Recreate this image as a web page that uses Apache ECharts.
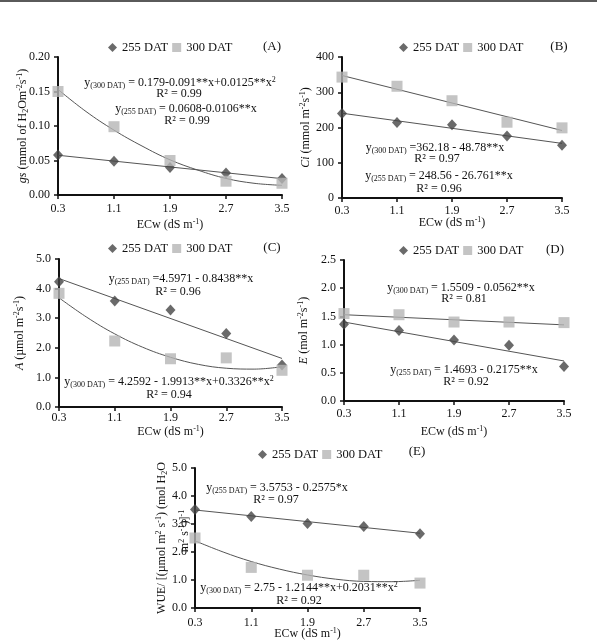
<!DOCTYPE html>
<html>
<head>
<meta charset="utf-8">
<script src="https://cdn.jsdelivr.net/npm/echarts@6/dist/echarts.min.js"></script>
<style>html,body{margin:0;padding:0;background:#fff}#c{width:597px;height:642px}</style>
</head>
<body>
<div id="c"></div>
<script>
// ---- data ----
const ecw = [0.3, 1.1, 1.9, 2.7, 3.5];
const xTicks = [0.3, 1.1, 1.9, 2.7, 3.5];
const seriesNames = ['255 DAT', '300 DAT'];

const gsA255 = [0.058, 0.049, 0.040, 0.032, 0.024];
const gsA300 = [0.150, 0.099, 0.050, 0.020, 0.017];
const ciB255 = [240, 214, 208, 176, 150];
const ciB300 = [343, 317, 276, 215, 199];
const aC255 = [4.23, 3.58, 3.28, 2.48, 1.42];
const aC300 = [3.84, 2.23, 1.63, 1.66, 1.24];
const eD255 = [1.36, 1.25, 1.08, 0.99, 0.61];
const eD300 = [1.55, 1.53, 1.40, 1.40, 1.39];
const wueE255 = [3.52, 3.27, 3.02, 2.91, 2.65];
const wueE300 = [2.50, 1.45, 1.17, 1.17, 0.89];

// trend lines
const lineX = [0.3, 3.5];
const curveX = [0.3, 0.7, 1.1, 1.5, 1.9, 2.3, 2.7, 3.1, 3.5];
const trendA255 = [0.0576, 0.0237];
const trendA300 = [0.153, 0.121, 0.094, 0.071, 0.051, 0.036, 0.024, 0.017, 0.014];
const trendB255 = [240.5, 154.9];
const trendB300 = [347.5, 191.5];
const trendC255 = [4.34, 1.64];
const trendC300 = [3.69, 3.03, 2.47, 2.02, 1.68, 1.44, 1.31, 1.28, 1.36];
const trendD255 = [1.40, 0.71];
const trendD300 = [1.53, 1.35];
const trendE255 = [3.50, 2.67];
const trendE300 = [2.40, 2.00, 1.66, 1.39, 1.18, 1.03, 0.95, 0.94, 0.99];

// ---- chart ----
const FONT = 'Liberation Serif';
const TXT = '#111';
function pts(xs, ys) { return xs.map((x, i) => [x, ys[i]]); }

const richBase = {
  n: {fontFamily: FONT, fontSize: 12, color: TXT, lineHeight: 14},
  i: {fontFamily: FONT, fontSize: 12, fontStyle: 'italic', color: TXT, lineHeight: 14},
  s: {fontFamily: FONT, fontSize: 8, color: TXT, lineHeight: 6, verticalAlign: 'bottom'},
  p: {fontFamily: FONT, fontSize: 8, color: TXT, lineHeight: 6, verticalAlign: 'top'}
};

const panels = [
  {grid: {left: 58, top: 57, width: 224, height: 138}, min: 0, max: 0.2, interval: 0.05, dec: 2,
   yName: '{i|gs}{n| (mmol of H}{s|2}{n|Om}{p|-2}{n|s}{p|-1}{n|)}', yGap: 28, xGap: 23, xMargin: 8,
   d255: gsA255, d300: gsA300, t255: [lineX, trendA255], t300: [curveX, trendA300]},
  {grid: {left: 342, top: 57, width: 220, height: 141}, min: 0, max: 400, interval: 100, dec: 0,
   yName: '{i|Ci}{n| (mmol m}{p|-2}{n|s}{p|-1}{n|)}', yGap: 29, xGap: 18, xMargin: 7,
   d255: ciB255, d300: ciB300, t255: [lineX, trendB255], t300: [lineX, trendB300]},
  {grid: {left: 59, top: 259, width: 223, height: 148}, min: 0, max: 5, interval: 1, dec: 1,
   yName: '{i|A}{n| (µmol m}{p|-2}{n|s}{p|-1}{n|)}', yGap: 32, xGap: 18, xMargin: 5,
   d255: aC255, d300: aC300, t255: [lineX, trendC255], t300: [curveX, trendC300]},
  {grid: {left: 344, top: 260, width: 220, height: 141}, min: 0, max: 2.5, interval: 0.5, dec: 1,
   yName: '{i|E}{n| (mol m}{p|-2}{n|s}{p|-1}{n|)}', yGap: 33, xGap: 24, xMargin: 7,
   d255: eD255, d300: eD300, t255: [lineX, trendD255], t300: [lineX, trendD300]},
  {grid: {left: 195, top: 468, width: 225, height: 140}, min: 0, max: 5, interval: 1, dec: 1,
   yName: '{n|WUE/ [(µmol m}{p|2}{n| s}{p|-1}{n|) (mol H}{s|2}{n|O}', yGap: 26, xGap: 19, xMargin: 9,
   d255: wueE255, d300: wueE300, t255: [lineX, trendE255], t300: [curveX, trendE300]}
];
const yNameE2 = '{n|m}{p|2}{n| s}{p|-1}{n|)]}{p|-1}';

const legendPos = [[108, 41], [399, 41], [108, 242], [399, 244], [258, 448]];
const panelTags = [['(A)', 272, 47], ['(B)', 559, 47], ['(C)', 272, 248], ['(D)', 555, 250], ['(E)', 417, 452]];

const eqs = [
  ['{n|y}{s|(300 DAT)}{n| = 0.179-0.091**x+0.0125**x}{p|2}', 180, 83],
  ['{n|R² = 0.99}', 179, 94],
  ['{n|y}{s|(255 DAT)}{n| = 0.0608-0.0106**x}', 186, 109],
  ['{n|R² = 0.99}', 187, 121],
  ['{n|y}{s|(300 DAT)}{n| =362.18 - 48.78**x}', 435, 148],
  ['{n|R² = 0.97}', 437, 159],
  ['{n|y}{s|(255 DAT)}{n| = 248.56 - 26.761**x}', 439, 176],
  ['{n|R² = 0.96}', 439, 189],
  ['{n|y}{s|(255 DAT)}{n| =4.5971 - 0.8438**x}', 181, 279],
  ['{n|R² = 0.96}', 178, 292],
  ['{n|y}{s|(300 DAT)}{n| = 4.2592 - 1.9913**x+0.3326**x}{p|2}', 169, 382],
  ['{n|R² = 0.94}', 169, 395],
  ['{n|y}{s|(300 DAT)}{n| = 1.5509 - 0.0562**x}', 461, 288],
  ['{n|R² = 0.81}', 464, 299],
  ['{n|y}{s|(255 DAT)}{n| = 1.4693 - 0.2175**x}', 464, 370],
  ['{n|R² = 0.92}', 466, 382],
  ['{n|y}{s|(255 DAT)}{n| = 3.5753 - 0.2575*x}', 277, 488],
  ['{n|R² = 0.97}', 276, 500],
  ['{n|y}{s|(300 DAT)}{n| = 2.75 - 1.2144**x+0.2031**x}{p|2}', 299, 588],
  ['{n|R² = 0.92}', 299, 601]
];

const grids = [], xAxes = [], yAxes = [], series = [], legends = [];
panels.forEach((p, i) => {
  grids.push(Object.assign({containLabel: false}, p.grid));
  xAxes.push({
    type: 'value', gridIndex: i, min: 0.3, max: 3.5,
    name: '{n|ECw (dS m}{p|-1}{n|)}',
    nameLocation: 'middle', nameGap: p.xGap, nameMoveOverlap: false,
    nameTextStyle: {rich: richBase},
    axisLine: {lineStyle: {color: '#111', width: 2}},
    axisTick: {show: true, length: 4, customValues: xTicks, lineStyle: {color: '#111', width: 1.5}},
    axisLabel: {customValues: xTicks, formatter: v => v.toFixed(1), fontFamily: FONT, fontSize: 12, color: TXT, margin: p.xMargin},
    splitLine: {show: false}
  });
  yAxes.push({
    type: 'value', gridIndex: i, min: p.min, max: p.max, interval: p.interval,
    name: p.yName, nameLocation: 'middle', nameRotate: 90, nameGap: p.yGap, nameMoveOverlap: false,
    nameTextStyle: {rich: richBase},
    axisLine: {show: true, lineStyle: {color: '#111', width: 2}},
    axisTick: {show: true, length: 4, lineStyle: {color: '#111', width: 1.5}},
    axisLabel: {formatter: v => v.toFixed(p.dec), fontFamily: FONT, fontSize: 12, color: TXT, margin: 8},
    splitLine: {show: false}
  });
  const curved255 = p.t255[0].length > 2, curved300 = p.t300[0].length > 2;
  series.push({type: 'line', name: 't255_' + i, xAxisIndex: i, yAxisIndex: i, data: pts(p.t255[0], p.t255[1]),
    symbol: 'none', smooth: curved255 ? 0.4 : false, lineStyle: {color: '#555', width: 1}, silent: true, z: 2});
  series.push({type: 'line', name: 't300_' + i, xAxisIndex: i, yAxisIndex: i, data: pts(p.t300[0], p.t300[1]),
    symbol: 'none', smooth: curved300 ? 0.4 : false, lineStyle: {color: '#555', width: 1}, silent: true, z: 2});
  series.push({type: 'scatter', name: seriesNames[0], xAxisIndex: i, yAxisIndex: i, data: pts(ecw, p.d255),
    symbol: 'diamond', symbolSize: [10, 11], itemStyle: {color: '#454545'}, z: 3});
  series.push({type: 'scatter', name: seriesNames[1], xAxisIndex: i, yAxisIndex: i, data: pts(ecw, p.d300),
    symbol: 'rect', symbolSize: 11, itemStyle: {color: '#b5b5b5'}, z: 4});
  legends.push({
    left: legendPos[i][0], top: legendPos[i][1], padding: 0, itemGap: 4, itemWidth: 9, itemHeight: 9,
    selectedMode: false,
    data: [{name: seriesNames[0], icon: 'diamond'}, {name: seriesNames[1], icon: 'rect'}],
    textStyle: {fontFamily: FONT, fontSize: 12.5, color: TXT}
  });
});

const graphics = [{type: 'rect', shape: {x: 0, y: 0, width: 597, height: 2}, style: {fill: '#5a5a5a'}, silent: true}];
panelTags.forEach(t => graphics.push({type: 'text', x: t[1], y: t[2],
  style: {text: t[0], font: '13px "' + FONT + '"', fill: TXT, align: 'center', verticalAlign: 'middle',
          textAlign: 'center', textVerticalAlign: 'middle'}, silent: true}));
eqs.forEach(e => graphics.push({type: 'text', x: e[1], y: e[2], z: 10,
  style: {text: e[0], rich: richBase, font: '12px "' + FONT + '"', fill: TXT, align: 'center', verticalAlign: 'middle',
          textAlign: 'center', textVerticalAlign: 'middle'}, silent: true}));
// second line of panel E's y-axis title
graphics.push({type: 'text', x: 185, y: 531, rotation: Math.PI / 2, z: 10,
  style: {text: yNameE2, rich: richBase, font: '12px "' + FONT + '"', fill: TXT, align: 'center', verticalAlign: 'middle',
          textAlign: 'center', textVerticalAlign: 'middle'}, silent: true});

const chart = echarts.init(document.getElementById('c'), null, {renderer: 'canvas'});
chart.setOption({
  animation: false,
  backgroundColor: '#fff',
  grid: grids, xAxis: xAxes, yAxis: yAxes, series: series, legend: legends,
  graphic: graphics
});
</script>
</body>
</html>
